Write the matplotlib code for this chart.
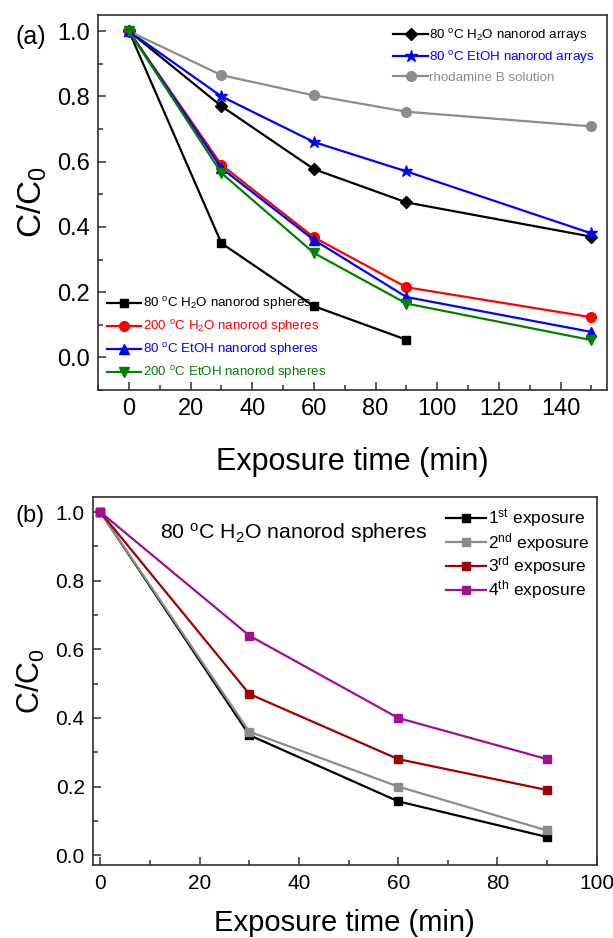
import matplotlib
matplotlib.use('Agg')
import matplotlib.pyplot as plt
from matplotlib.ticker import MultipleLocator

plt.rcParams['font.family'] = ['Liberation Sans', 'DejaVu Sans']
plt.rcParams['mathtext.default'] = 'regular'

# panel (a) data
time_a = [0, 30, 60, 90, 150]
time_a_short = [0, 30, 60, 90]
h2o_arrays = [1.0, 0.77, 0.577, 0.475, 0.37]
etoh_arrays = [1.0, 0.80, 0.66, 0.57, 0.38]
rhodamine = [1.0, 0.865, 0.803, 0.753, 0.708]
h2o80_spheres = [1.0, 0.35, 0.157, 0.054]
h2o200_spheres = [1.0, 0.59, 0.368, 0.215, 0.123]
etoh80_spheres = [1.0, 0.58, 0.36, 0.185, 0.078]
etoh200_spheres = [1.0, 0.565, 0.32, 0.165, 0.053]

# panel (b) data
time_b = [0, 30, 60, 90]
exp1 = [1.0, 0.35, 0.157, 0.053]
exp2 = [1.0, 0.36, 0.20, 0.072]
exp3 = [1.0, 0.47, 0.28, 0.19]
exp4 = [1.0, 0.64, 0.40, 0.28]

frame = '#3a2a2a'
gray = '#8c8c8c'

fig = plt.figure(figsize=(6.13, 9.38), dpi=100)
ax1 = fig.add_axes([0.160, 0.5842, 0.830, 0.400])
ax2 = fig.add_axes([0.1517, 0.0773, 0.8217, 0.3932])
ax2.patch.set_visible(False)


def style_axes(ax, fs):
    for s in ax.spines.values():
        s.set_color(frame)
        s.set_linewidth(1.2)
    ax.tick_params(which='both', direction='in', top=False, right=False,
                   color=frame, width=1.1, labelsize=fs, pad=6)
    ax.tick_params(which='major', length=6)
    ax.tick_params(which='minor', length=3.5)
    ax.xaxis.set_major_locator(MultipleLocator(20))
    ax.xaxis.set_minor_locator(MultipleLocator(10))
    ax.yaxis.set_major_locator(MultipleLocator(0.2))
    ax.yaxis.set_minor_locator(MultipleLocator(0.1))
    ax.yaxis.set_major_formatter(plt.FormatStrFormatter('%.1f'))


lw = 1.6
# top-right group
l1, = ax1.plot(time_a, h2o_arrays, color='black', marker='D', ms=6, lw=lw,
               label='80 $^o$C H$_2$O nanorod arrays')
l2, = ax1.plot(time_a, etoh_arrays, color='#0000ff', marker='*', ms=9, lw=lw,
               label='80 $^o$C EtOH nanorod arrays')
l3, = ax1.plot(time_a, rhodamine, color=gray, marker='o', ms=7, lw=lw,
               label='rhodamine B solution')
# bottom-left group
l4, = ax1.plot(time_a_short, h2o80_spheres, color='black', marker='s', ms=6, lw=lw,
               label='80 $^o$C H$_2$O nanorod spheres')
l5, = ax1.plot(time_a, h2o200_spheres, color='#ff0000', marker='o', ms=7, lw=lw,
               label='200 $^o$C H$_2$O nanorod spheres')
l6, = ax1.plot(time_a, etoh80_spheres, color='#0000ff', marker='^', ms=7, lw=lw,
               label='80 $^o$C EtOH nanorod spheres')
l7, = ax1.plot(time_a, etoh200_spheres, color='#008000', marker='v', ms=7, lw=lw,
               label='200 $^o$C EtOH nanorod spheres')

ax1.set_xlim(-10, 155)
ax1.set_ylim(-0.1, 1.05)
style_axes(ax1, 17)
ax1.set_xlabel('Exposure time (min)', fontsize=22, labelpad=19)
ax1.set_ylabel('C/C$_0$', fontsize=24, labelpad=6)

leg1 = ax1.legend(handles=[l1, l2, l3], loc='upper right', frameon=False,
                  fontsize=9.6, handlelength=2.6, handletextpad=0.1,
                  labelspacing=0.4, borderaxespad=0.5)
for t, h in zip(leg1.get_texts(), [l1, l2, l3]):
    t.set_color(h.get_color())
ax1.add_artist(leg1)
leg2 = ax1.legend(handles=[l4, l5, l6, l7], loc='lower left', frameon=False,
                  fontsize=9.6, handlelength=2.6, handletextpad=0.1,
                  labelspacing=0.45, borderaxespad=0.25)
for t, h in zip(leg2.get_texts(), [l4, l5, l6, l7]):
    t.set_color(h.get_color())

fig.text(0.025, 0.953, '(a)', fontsize=18)

# panel (b)
m1, = ax2.plot(time_b, exp1, color='black', marker='s', ms=6, lw=lw,
               label='1$^{st}$ exposure')
m2, = ax2.plot(time_b, exp2, color=gray, marker='s', ms=6, lw=lw,
               label='2$^{nd}$ exposure')
m3, = ax2.plot(time_b, exp3, color='#a00000', marker='s', ms=6, lw=lw,
               label='3$^{rd}$ exposure')
m4, = ax2.plot(time_b, exp4, color='#a0108f', marker='s', ms=6, lw=lw,
               label='4$^{th}$ exposure')

ax2.set_xlim(-1.5, 100)
ax2.set_ylim(-0.03, 1.045)
style_axes(ax2, 15)
ax2.set_xlabel('Exposure time (min)', fontsize=21, labelpad=12)
ax2.set_ylabel('C/C$_0$', fontsize=22, labelpad=6)
ax2.legend(loc='upper right', bbox_to_anchor=(1.0, 0.99), frameon=False,
           fontsize=12.5, handlelength=2.3, handletextpad=0.15,
           labelspacing=0.05, borderaxespad=0.0)
ax2.text(12, 0.94, '80 $^o$C H$_2$O nanorod spheres', fontsize=15.3,
         va='center', ha='left')

fig.text(0.025, 0.443, '(b)', fontsize=17)

fig.savefig('out.png', dpi=100)
